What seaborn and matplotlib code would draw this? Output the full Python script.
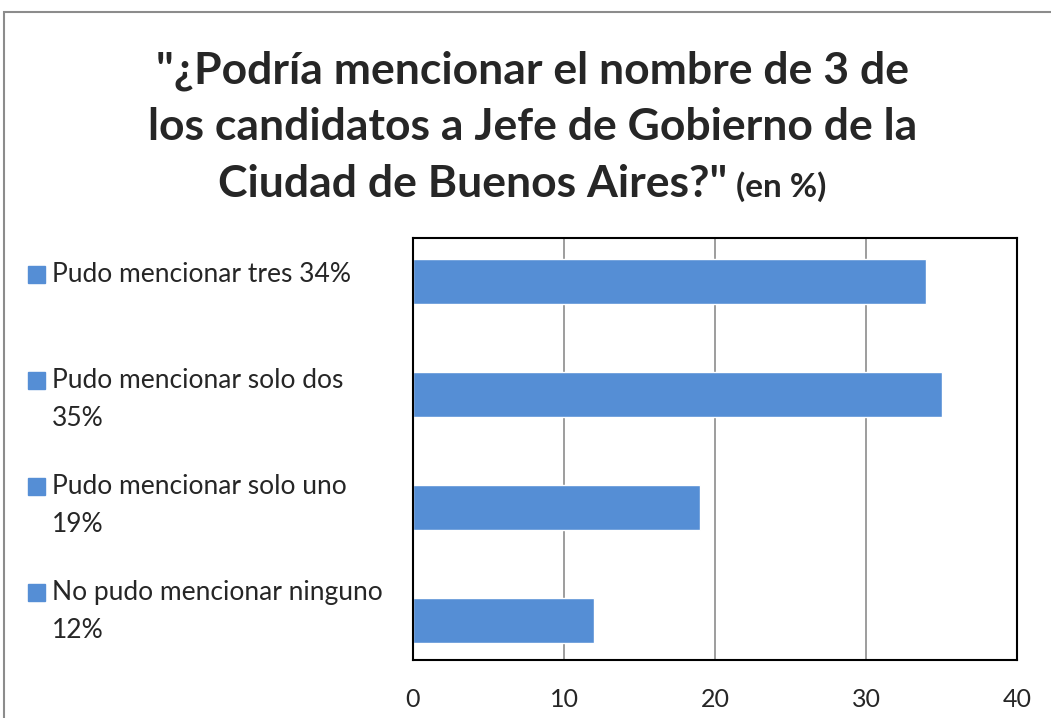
import pandas as pd
import matplotlib.pyplot as plt
import seaborn as sns
from matplotlib.patches import Rectangle

# Data
categories = ['Pudo mencionar tres 34%', 'Pudo mencionar solo dos\n35%',
              'Pudo mencionar solo uno\n19%', 'No pudo mencionar ninguno\n12%']
values = [34, 35, 19, 12]
x_ticks = [0, 10, 20, 30, 40]

bar_color = '#558ed5'

df = pd.DataFrame({'Categoria': categories, 'Valor': values})

sns.set_style('white')
plt.rcParams['font.family'] = ['Lato', 'DejaVu Sans']

fig = plt.figure(figsize=(10.51, 7.18), dpi=100)
ax = fig.add_axes([413 / 1051, 1 - 660 / 718, (1017 - 413) / 1051, (660 - 238) / 718])

sns.barplot(data=df, x='Valor', y='Categoria', color=bar_color, width=0.4,
            saturation=1, ax=ax, orient='h')

ax.set_xlim(0, 40)
ax.set_ylim(3.35, -0.385)
ax.set_xticks(x_ticks)
ax.set_xticklabels([str(t) for t in x_ticks], fontsize=18)
ax.tick_params(axis='x', length=0, pad=20)
ax.set_yticks([])
ax.set_xlabel('')
ax.set_ylabel('')
ax.grid(axis='x', color='#8c8c8c', linewidth=1.2)
ax.set_axisbelow(True)
for s in ax.spines.values():
    s.set_color('black')
    s.set_linewidth(1.5)

# Left-side legend entries
ys = [275, 381, 487, 593]
for lab, yy in zip(categories, ys):
    fig.patches.append(Rectangle((28 / 1051, 1 - (yy + 8) / 718), 17 / 1051, 17 / 718,
                                 transform=fig.transFigure, color=bar_color))
    fig.text(52 / 1051, 1 - (yy - 13) / 718, lab, fontsize=19, va='top', ha='left',
             linespacing=1.65)

# Title
fig.text(533 / 1051, 1 - 71 / 718, '"¿Podría mencionar el nombre de 3 de', ha='center',
         va='center', fontsize=32, fontweight='bold')
fig.text(533 / 1051, 1 - 127 / 718, 'los candidatos a Jefe de Gobierno de la', ha='center',
         va='center', fontsize=32, fontweight='bold')
fig.text(727 / 1051, 1 - 184 / 718, 'Ciudad de Buenos Aires?"', ha='right',
         va='center', fontsize=32, fontweight='bold')
fig.text(736 / 1051, 1 - 187 / 718, '(en %)', ha='left', va='center',
         fontsize=24, fontweight='bold')

# Outer chart frame
fig.patches.append(Rectangle((4 / 1051, -0.05), 1.1, 1 - 12 / 718 + 0.05,
                             transform=fig.transFigure, fill=False,
                             edgecolor='#8c8c8c', linewidth=1.5))

fig.savefig('out.png', dpi=100)
